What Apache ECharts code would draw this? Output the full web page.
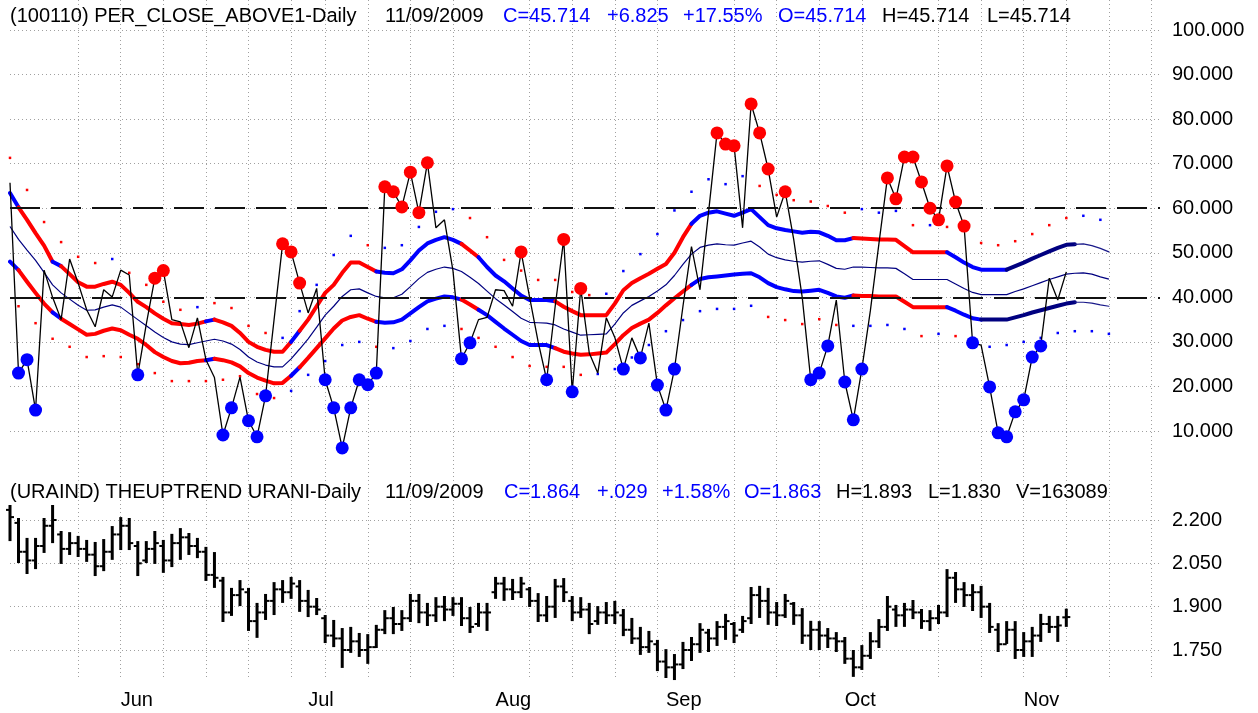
<!DOCTYPE html>
<html>
<head>
<meta charset="utf-8">
<script src="https://cdn.jsdelivr.net/npm/echarts@6.0.0/dist/echarts.min.js"></script>
<style>
  html, body { margin: 0; padding: 0; background: #fff; }
  #MainContent { width: 1258px; height: 713px; }
</style>
</head>
<body>
<div id="MainContent"></div>
<script>
// trading days (2009), the last 11 are empty future slots
var dates = ['5/12','5/13','5/14','5/15','5/19','5/20','5/21','5/22','5/25','5/26','5/27','5/28','5/29',
  '6/1','6/2','6/3','6/4','6/5','6/8','6/9','6/10','6/11','6/12','6/15','6/16','6/17','6/18','6/19','6/22','6/23','6/24','6/25','6/26','6/29','6/30',
  '7/2','7/3','7/6','7/7','7/8','7/9','7/10','7/13','7/14','7/15','7/16','7/17','7/20','7/21','7/22','7/23','7/24','7/27','7/28','7/29','7/30','7/31',
  '8/4','8/5','8/6','8/7','8/10','8/11','8/12','8/13','8/14','8/17','8/18','8/19','8/20','8/21','8/24','8/25','8/26','8/27','8/28','8/31',
  '9/1','9/2','9/3','9/4','9/8','9/9','9/10','9/11','9/14','9/15','9/16','9/17','9/18','9/21','9/22','9/23','9/24','9/25','9/28','9/29','9/30',
  '10/1','10/2','10/5','10/6','10/7','10/8','10/9','10/13','10/14','10/15','10/16','10/19','10/20','10/21','10/22','10/23','10/26','10/27','10/28','10/29','10/30',
  '11/2','11/3','11/4','11/5','11/6','11/9',
  '11/10','11/11','11/12','11/13','11/16','11/17','11/18','11/19','11/20','11/23','11/24'];

var monthNames = ['Jan','Feb','Mar','Apr','May','Jun','Jul','Aug','Sep','Oct','Nov','Dec'];

// PER_CLOSE_ABOVE1 daily close
var closeVals = [65.7,23.0,26.0,14.7,46.1,40.0,35.0,48.6,43.2,37.2,
  33.4,41.7,40.1,46.1,45.0,22.6,34.0,44.3,46.0,35.0,
  34.5,28.7,35.4,26.0,22.0,9.1,15.2,22.1,12.3,8.7,
  17.9,35.0,52.0,50.2,43.2,36.5,42.0,21.5,15.2,6.2,
  15.2,21.5,20.4,23.0,64.8,63.7,60.3,68.1,59.0,70.2,
  55.6,57.4,46.0,26.2,29.8,35.0,35.5,41.7,41.5,38.0,
  50.2,40.0,30.0,21.5,38.0,53.0,18.8,42.0,27.5,23.0,
  35.4,31.0,23.9,30.9,26.4,34.2,20.3,14.7,23.9,38.0,
  51.4,41.7,59.0,76.9,74.4,74.0,55.6,83.4,76.9,68.8,
  58.0,63.7,53.0,40.0,21.5,23.0,29.1,39.4,21.0,12.5,
  23.9,37.0,52.0,66.8,62.1,71.5,71.5,65.9,60.0,57.4,
  69.5,61.4,56.0,29.8,29.3,19.9,9.6,8.7,14.3,17.0,
  26.6,29.1,44.3,39.4,45.714];

var redDotIdx = [17,18,32,33,34,44,45,46,47,48,49,60,65,67,83,84,85,87,88,89,91,103,104,105,106,107,108,109,110,111,112];
var blueDotIdx = [1,2,3,15,25,26,28,29,30,37,38,39,40,41,42,43,53,54,63,66,72,74,76,77,78,94,95,96,98,99,100,113,115,116,117,118,119,120,121];

var upperBand = [63.4,60.2,57.4,54.4,51.6,48.0,47.0,45.2,43.4,42.4,
  42.4,43.0,43.5,42.8,41.0,39.0,37.8,36.4,35.2,34.2,
  34.0,33.8,34.1,34.6,35.0,34.4,33.6,32.0,30.0,28.9,
  28.2,27.8,27.8,30.0,32.5,35.0,38.0,41.0,42.8,45.5,
  47.8,47.8,46.8,45.8,45.5,45.4,46.3,48.3,50.5,52.1,
  52.9,53.5,52.9,52.0,50.5,49.0,46.8,44.9,43.6,42.0,
  40.4,39.4,39.4,39.4,39.1,37.9,36.9,36.0,36.0,36.0,
  36.0,38.6,41.6,43.2,44.3,45.3,46.4,47.5,50.0,53.5,
  56.5,58.3,59.0,59.3,58.8,58.3,59.0,59.8,58.0,56.2,
  55.5,55.1,54.8,54.5,54.7,54.6,53.8,52.8,52.8,53.3,
  53.2,53.1,53.0,53.0,52.9,51.5,50.1,50.1,50.1,50.1,
  50.1,49.0,47.8,46.8,46.2,46.2,46.2,46.2,47.0,47.8,
  48.7,49.5,50.3,51.1,51.8,51.9,52.0,51.6,51.0,50.2];

var middleBand = [55.9,53.0,50.6,48.3,45.6,42.8,41.0,39.6,38.2,37.1,
  37.2,37.8,38.3,37.8,36.4,35.0,33.6,32.2,31.0,30.0,
  29.5,29.4,29.8,30.2,30.6,30.2,29.5,28.3,26.6,25.5,
  24.8,24.4,24.4,26.2,28.4,30.7,33.3,36.0,38.0,40.2,
  41.7,41.9,41.0,40.2,39.9,39.9,40.7,42.4,44.2,45.6,
  46.3,46.8,46.5,45.8,44.5,43.1,41.4,39.7,38.3,36.8,
  35.3,34.4,34.3,34.2,33.8,32.9,32.2,31.5,31.6,31.7,
  31.8,34.0,36.5,38.2,39.2,40.2,41.4,42.8,44.9,47.4,
  49.7,51.2,51.7,52.0,51.8,51.7,52.2,52.6,51.3,49.7,
  48.9,48.4,48.1,47.9,48.1,48.2,47.4,46.5,46.3,46.8,
  46.8,46.7,46.6,46.6,46.5,45.3,44.0,44.0,44.0,44.0,
  44.0,43.0,42.0,41.1,40.6,40.6,40.6,40.6,41.3,41.9,
  42.6,43.3,44.0,44.6,45.2,45.4,45.5,45.2,44.6,44.1];

var lowerBand = [48.0,46.1,43.5,41.0,38.6,36.6,35.2,34.0,32.8,31.6,
  31.8,32.5,33.0,32.6,31.6,30.7,29.3,27.7,26.6,25.7,
  25.2,25.3,25.7,25.9,26.2,25.9,25.4,24.5,23.0,22.0,
  21.3,20.7,20.8,22.4,24.3,26.4,28.6,30.8,33.0,34.8,
  35.6,36.0,35.2,34.5,34.3,34.4,35.0,36.4,37.8,39.1,
  39.7,40.2,40.0,39.5,38.4,37.2,36.0,34.5,33.0,31.6,
  30.2,29.3,29.3,29.3,28.6,27.8,27.4,27.1,27.2,27.4,
  27.6,29.5,31.5,33.1,34.1,35.0,36.5,38.2,39.8,41.3,
  42.8,44.1,44.5,44.7,44.9,45.1,45.3,45.4,44.5,43.2,
  42.3,41.8,41.4,41.3,41.5,41.7,41.0,40.2,39.9,40.4,
  40.3,40.3,40.2,40.2,40.2,39.0,37.8,37.8,37.8,37.8,
  37.8,37.0,36.1,35.3,35.0,35.0,35.0,35.0,35.5,36.0,
  36.6,37.1,37.6,38.1,38.6,38.9,38.9,38.7,38.3,38.0];

// colour runs of the thick bands: [first index, colour]
var upperRuns = [[0,'b'],[1,'r'],[5,'b'],[6,'r'],[23,'b'],[24,'r'],[33,'b'],[34,'r'],[43,'b'],[53,'r'],[55,'b'],[64,'r'],[80,'b'],[99,'r'],[110,'b'],[117,'n'],[125,'t']];
var lowerRuns = [[0,'b'],[1,'r'],[5,'b'],[6,'r'],[23,'b'],[24,'r'],[33,'b'],[34,'r'],[43,'b'],[53,'r'],[55,'b'],[64,'r'],[80,'b'],[99,'r'],[110,'b'],[114,'n'],[125,'t']];

// small dots: outer upper on even days, outer lower on odd days
var upperDots = [71.3,64.1,56.9,52.4,49.1,47.7,48.6,45.5,42.8,39.0,37.2,37.8,38.7,37.6,33.6,32.0,30.9,36.9,42.8,49.5,
  53.8,51.7,51.1,51.7,55.8,59.2,59.8,57.8,53.5,48.4,46.0,43.9,43.9,41.2,40.5,40.8,45.9,49.7,54.2,59.5,
  63.7,66.5,65.4,67.2,65.0,63.0,61.8,61.5,60.5,59.0,59.8,59.0,59.4,56.2,56.2,55.8,55.0,52.2,51.7,52.6,
  54.2,56.2,57.8,58.3,57.4];
var upperDotCol = 'rrrrrrbrrrrbrrrrbbbbbrbbbbbrrrrrrrrbbbbbbbbbrrrrrrbbbrbrrrrrrrrbb';
var lowerDots = [38.0,34.2,30.7,28.9,26.6,26.8,26.6,25.0,23.0,21.2,21.2,21.2,21.5,22.3,18.3,17.4,19.0,22.6,25.7,29.3,
  30.0,28.9,28.6,30.2,32.9,33.6,32.9,30.9,28.9,26.6,24.6,24.4,24.4,22.6,22.8,23.9,26.5,29.3,32.4,34.9,
  36.9,37.4,37.4,38.1,35.6,34.9,34.0,35.1,33.8,33.6,33.6,33.8,32.9,31.3,31.8,31.3,29.5,28.9,29.3,30.0,
  30.9,32.0,32.4,32.4,31.8];
var lowerDotCol = 'rrrrrrrrrrrrrrrrbbbbbrbbbbrrrrrrrrbbbbbbbbbbrrrrrbbbbrbrrbbbbbbbb';

// URAIND bars
var barOpen = [2.235,2.190,2.090,2.060,2.110,2.180,2.150,2.100,2.120,2.100,
  2.080,2.040,2.090,2.150,2.180,2.110,2.060,2.100,2.110,2.060,
  2.120,2.140,2.110,2.090,2.010,1.990,1.880,1.940,1.950,1.850,
  1.880,1.920,1.960,1.950,1.970,1.920,1.900,1.860,1.800,1.790,
  1.750,1.780,1.750,1.760,1.820,1.860,1.840,1.860,1.920,1.880,
  1.870,1.900,1.890,1.910,1.860,1.840,1.880,1.950,1.980,1.960,
  1.950,1.960,1.920,1.870,1.900,1.970,1.920,1.880,1.890,1.850,
  1.880,1.870,1.870,1.820,1.790,1.760,1.770,1.710,1.690,1.700,
  1.750,1.770,1.810,1.790,1.830,1.840,1.820,1.860,1.940,1.920,
  1.880,1.870,1.910,1.870,1.800,1.820,1.800,1.790,1.780,1.720,
  1.690,1.730,1.780,1.830,1.890,1.870,1.890,1.880,1.850,1.860,
  1.880,2.000,1.960,1.940,1.950,1.900,1.820,1.770,1.820,1.750,
  1.780,1.800,1.840,1.830,1.863];
var barHigh = [2.252,2.207,2.138,2.138,2.207,2.252,2.162,2.158,2.145,2.131,
  2.124,2.134,2.179,2.210,2.207,2.127,2.127,2.162,2.131,2.152,
  2.172,2.155,2.138,2.107,2.089,2.003,1.965,1.992,1.965,1.913,
  1.944,1.985,1.992,2.003,1.992,1.958,1.930,1.871,1.854,1.826,
  1.830,1.809,1.805,1.837,1.888,1.899,1.888,1.944,1.944,1.913,
  1.933,1.937,1.933,1.933,1.899,1.913,1.913,2.003,2.003,1.996,
  2.003,1.968,1.947,1.937,1.996,1.999,1.937,1.933,1.913,1.902,
  1.916,1.920,1.892,1.861,1.830,1.816,1.785,1.753,1.736,1.778,
  1.795,1.843,1.823,1.850,1.875,1.847,1.868,1.968,1.972,1.965,
  1.916,1.944,1.916,1.895,1.851,1.850,1.826,1.812,1.795,1.750,
  1.767,1.812,1.857,1.937,1.906,1.913,1.923,1.892,1.888,1.906,
  2.030,2.020,1.985,1.978,1.972,1.913,1.843,1.850,1.850,1.812,
  1.830,1.875,1.868,1.868,1.893];
var barLow = [2.127,2.051,2.013,2.030,2.086,2.120,2.048,2.079,2.072,2.055,
  2.006,2.023,2.062,2.096,2.096,2.006,2.051,2.048,2.017,2.037,
  2.062,2.079,2.068,1.989,1.965,1.847,1.868,1.902,1.816,1.792,
  1.854,1.871,1.913,1.927,1.882,1.864,1.871,1.774,1.760,1.688,
  1.740,1.726,1.702,1.757,1.805,1.805,1.816,1.847,1.843,1.833,
  1.847,1.850,1.868,1.833,1.809,1.830,1.816,1.927,1.920,1.923,
  1.930,1.899,1.847,1.847,1.861,1.916,1.850,1.861,1.805,1.837,
  1.840,1.840,1.798,1.771,1.733,1.740,1.677,1.653,1.646,1.684,
  1.712,1.740,1.743,1.764,1.785,1.774,1.809,1.840,1.861,1.837,
  1.833,1.861,1.837,1.771,1.750,1.750,1.757,1.743,1.702,1.657,
  1.681,1.719,1.757,1.816,1.830,1.830,1.857,1.823,1.816,1.840,
  1.864,1.913,1.899,1.885,1.861,1.809,1.743,1.771,1.719,1.726,
  1.726,1.778,1.809,1.778,1.830];
var barClose = [2.210,2.090,2.060,2.110,2.180,2.200,2.100,2.120,2.100,2.080,
  2.040,2.090,2.150,2.180,2.120,2.050,2.100,2.120,2.060,2.120,
  2.140,2.110,2.090,2.010,2.000,1.880,1.940,1.960,1.850,1.880,
  1.920,1.960,1.950,1.980,1.920,1.900,1.890,1.800,1.790,1.750,
  1.780,1.750,1.760,1.820,1.860,1.840,1.860,1.920,1.880,1.870,
  1.900,1.890,1.910,1.860,1.830,1.880,1.880,1.980,1.960,1.950,
  1.980,1.920,1.870,1.900,1.970,1.950,1.880,1.890,1.840,1.880,
  1.870,1.880,1.820,1.790,1.760,1.780,1.710,1.690,1.700,1.750,
  1.770,1.820,1.790,1.830,1.850,1.800,1.850,1.940,1.920,1.880,
  1.870,1.920,1.870,1.800,1.820,1.800,1.790,1.780,1.720,1.690,
  1.730,1.780,1.830,1.900,1.870,1.890,1.880,1.850,1.860,1.880,
  2.000,1.960,1.940,1.950,1.900,1.830,1.770,1.820,1.750,1.780,
  1.800,1.840,1.830,1.835,1.864];

var FONT = '"Liberation Sans", Arial, sans-serif';
var colours = { r: '#ff0000', b: '#0000ff', n: '#000080', t: '#1a1a8a' };

function dayOf(i) {
    var p = dates[i].split('/');
    return new Date(2009, +p[0] - 1, +p[1]);
}

function isMonday(i) {
    return dayOf(i).getDay() === 1;
}

function isMonthStart(i) {
    return i > 0 && dayOf(i).getMonth() !== dayOf(i - 1).getMonth();
}

function bandSeries(vals, runs) {
    var out = [];
    for (var k = 0; k < runs.length; k++) {
        var s = runs[k][0];
        var e = k + 1 < runs.length ? runs[k + 1][0] : vals.length - 1;
        var pts = [];
        for (var i = s; i <= e; i++) pts.push([i, vals[i]]);
        var c = runs[k][1];
        out.push({
            type: 'line', xAxisIndex: 0, yAxisIndex: 0,
            data: pts, symbol: 'none', clip: false, silent: true, z: 3,
            lineStyle: { color: colours[c], width: c === 't' ? 1.2 : 4, cap: 'round', join: 'round' }
        });
    }
    return out;
}

function dotSeries(vals, cols, offset) {
    var pts = [];
    for (var k = 0; k < vals.length; k++) {
        pts.push({ value: [offset + 2 * k, vals[k]], itemStyle: { color: colours[cols[k]], opacity: 1 } });
    }
    return {
        type: 'scatter', xAxisIndex: 0, yAxisIndex: 0, data: pts,
        symbol: 'rect', symbolSize: 2.5, silent: true, z: 2, clip: false
    };
}

function bigDots(idx, colour) {
    return {
        type: 'scatter', xAxisIndex: 0, yAxisIndex: 0,
        data: idx.map(function (i) { return [i, closeVals[i]]; }),
        symbol: 'circle', symbolSize: 13, silent: true, z: 6, clip: false,
        itemStyle: { color: colour, opacity: 1 }
    };
}

function ohlcItem(params, api) {
    var i = api.value(0);
    var op = api.coord([i, api.value(1)]);
    var hi = api.coord([i, api.value(2)]);
    var lo = api.coord([i, api.value(3)]);
    var cl = api.coord([i, api.value(4)]);
    return {
        type: 'group',
        children: [
            { type: 'line', shape: { x1: hi[0], y1: hi[1], x2: lo[0], y2: lo[1] }, style: { stroke: '#000', lineWidth: 3 } },
            { type: 'line', shape: { x1: op[0] - 4, y1: op[1], x2: op[0], y2: op[1] }, style: { stroke: '#000', lineWidth: 2 } },
            { type: 'line', shape: { x1: cl[0], y1: cl[1], x2: cl[0] + 4, y2: cl[1] }, style: { stroke: '#000', lineWidth: 2 } }
        ]
    };
}

function titleText(str, x, y, colour) {
    return {
        type: 'text', x: x, y: y, silent: true, z: 10,
        style: { text: str, fill: colour, font: '20px ' + FONT, verticalAlign: 'middle' }
    };
}

function draw() {
    var chart = echarts.init(document.getElementById('MainContent'));

    var dotted = { color: '#a0a0a0', width: 1, type: [1, 3] };
    var hiddenX = function (gi) {
        return {
            gridIndex: gi, type: 'category', data: dates, boundaryGap: false, show: false
        };
    };

    var series = [];
    series.push(dotSeries(upperDots, upperDotCol, 0));
    series.push(dotSeries(lowerDots, lowerDotCol, 1));
    series = series.concat(bandSeries(upperBand, upperRuns));
    series = series.concat(bandSeries(lowerBand, lowerRuns));
    series.push({
        type: 'line', xAxisIndex: 0, yAxisIndex: 0, data: middleBand,
        symbol: 'none', clip: false, silent: true, z: 3,
        lineStyle: { color: '#000080', width: 1.2 }
    });
    series.push({
        type: 'line', xAxisIndex: 0, yAxisIndex: 0, data: closeVals,
        symbol: 'none', clip: false, silent: true, z: 4,
        lineStyle: { color: '#000', width: 1.3 },
        markLine: {
            silent: true, symbol: 'none', label: { show: false },
            lineStyle: { color: '#111', width: 2, type: [30, 11] },
            data: [{ yAxis: 60 }, { yAxis: 40 }]
        }
    });
    series.push(bigDots(redDotIdx, '#ff0000'));
    series.push(bigDots(blueDotIdx, '#0000ff'));
    series.push({
        type: 'custom', xAxisIndex: 1, yAxisIndex: 1, clip: false, silent: true,
        renderItem: ohlcItem,
        encode: { x: 0, y: [1, 2, 3, 4] },
        data: barClose.map(function (c, i) { return [i, barOpen[i], barHigh[i], barLow[i], c]; })
    });

    var option = {
        animation: false,
        backgroundColor: '#fff',
        grid: [
            { left: 10, right: 98, top: 30, height: 401 },
            { left: 10, right: 98, top: 520, height: 130 },
            { left: 10, right: 98, top: 0, height: 678 }
        ],
        xAxis: [
            hiddenX(0),
            hiddenX(1),
            {
                gridIndex: 2, type: 'category', data: dates, boundaryGap: false,
                axisLine: { show: false }, axisTick: { show: false },
                axisLabel: {
                    interval: function (i) { return isMonthStart(i); },
                    formatter: function (v) { return monthNames[+v.split('/')[0] - 1]; },
                    align: 'left', margin: 12, fontSize: 20, fontFamily: FONT, color: '#000'
                },
                splitLine: { show: true, interval: function (i) { return isMonday(i); }, lineStyle: dotted }
            }
        ],
        yAxis: [
            {
                gridIndex: 0, type: 'value', position: 'right', min: 10, max: 100, interval: 10,
                axisLine: { show: false }, axisTick: { show: false },
                axisLabel: { margin: 12, fontSize: 20, fontFamily: FONT, color: '#000', formatter: function (v) { return v.toFixed(3); } },
                splitLine: { show: true, lineStyle: dotted }
            },
            {
                gridIndex: 1, type: 'value', position: 'right', min: 1.75, max: 2.2, interval: 0.15,
                axisLine: { show: false }, axisTick: { show: false },
                axisLabel: { margin: 12, fontSize: 20, fontFamily: FONT, color: '#000', formatter: function (v) { return v.toFixed(3); } },
                splitLine: { show: true, lineStyle: dotted }
            },
            { gridIndex: 2, type: 'value', show: false }
        ],
        graphic: [
            titleText('(100110) PER_CLOSE_ABOVE1-Daily', 10, 16, '#000'),
            titleText('11/09/2009', 385, 16, '#000'),
            titleText('C=45.714', 503, 16, '#0000ff'),
            titleText('+6.825', 607, 16, '#0000ff'),
            titleText('+17.55%', 683, 16, '#0000ff'),
            titleText('O=45.714', 778, 16, '#0000ff'),
            titleText('H=45.714', 882, 16, '#000'),
            titleText('L=45.714', 987, 16, '#000'),
            titleText('(URAIND) THEUPTREND URANI-Daily', 10, 492, '#000'),
            titleText('11/09/2009', 385, 492, '#000'),
            titleText('C=1.864', 504, 492, '#0000ff'),
            titleText('+.029', 597, 492, '#0000ff'),
            titleText('+1.58%', 662, 492, '#0000ff'),
            titleText('O=1.863', 744, 492, '#0000ff'),
            titleText('H=1.893', 836, 492, '#000'),
            titleText('L=1.830', 928, 492, '#000'),
            titleText('V=163089', 1016, 492, '#000')
        ],
        series: series
    };

    chart.setOption(option);
    window.onresize = chart.resize;
}

draw();
</script>
</body>
</html>
